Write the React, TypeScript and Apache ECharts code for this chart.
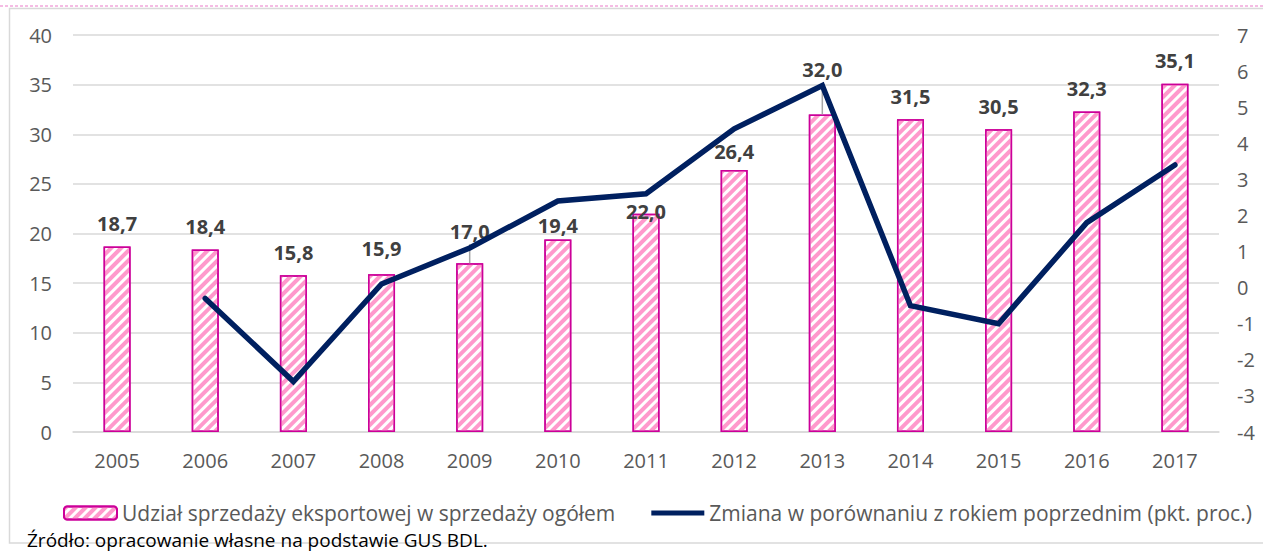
import React, { useEffect, useRef } from "react";
import * as echarts from "echarts";

const years = ["2005", "2006", "2007", "2008", "2009", "2010", "2011", "2012", "2013", "2014", "2015", "2016", "2017"];
const exportShare = [18.7, 18.4, 15.8, 15.9, 17.0, 19.4, 22.0, 26.4, 32.0, 31.5, 30.5, 32.3, 35.1];
const yearChange = [null, -0.3, -2.6, 0.1, 1.1, 2.4, 2.6, 4.4, 5.6, -0.5, -1.0, 1.8, 3.4];
const barName = "Udział sprzedaży eksportowej w sprzedaży ogółem";
const lineName = "Zmiana w porównaniu z rokiem poprzednim (pkt. proc.)";
const sourceText = "Źródło: opracowanie własne na podstawie GUS BDL.";

// label vertical shifts (px) relative to default position, and leader lines
const labelShift = [0, 0, 0, -3, -9, 9, 21, 5, -22, 0, 0, 0, 0];
const leaders: [number, number][] = [
  [4, 19],
  [8, 31],
];

const FONT = "'Open Sans', 'Noto Sans', sans-serif";

export default function App() {
  const ref = useRef<HTMLDivElement>(null);
  useEffect(() => {
    if (!ref.current) return;
    const chart = echarts.init(ref.current, null, { renderer: "svg" });
    chart.setOption({
      animation: false,
      backgroundColor: "#FFFFFF",
      textStyle: { fontFamily: FONT },
      grid: { left: 73, right: 44, top: 35, bottom: 121, containLabel: false },
      legend: {
        data: [
          { name: barName },
          { name: lineName, icon: "path://M0,0 L53,0 L53,5 L0,5 Z" },
        ],
        left: 58,
        top: 497,
        itemWidth: 53,
        itemHeight: 13,
        itemGap: 36,
        symbolKeepAspect: true,
        textStyle: { fontFamily: FONT, fontSize: 21, color: "#595959", lineHeight: 22 },
      },
      xAxis: {
        type: "category",
        data: years,
        boundaryGap: true,
        axisTick: { show: false },
        axisLine: { show: true, lineStyle: { color: "#D9D9D9", width: 1.5 } },
        axisLabel: { fontFamily: FONT, fontSize: 20, color: "#595959", margin: 18 },
      },
      yAxis: [
        {
          type: "value",
          min: 0,
          max: 40,
          interval: 5,
          axisLine: { show: false },
          axisTick: { show: false },
          splitLine: { lineStyle: { color: "#D9D9D9", width: 1.5 } },
          axisLabel: { fontFamily: FONT, fontSize: 20, color: "#595959", margin: 21 },
        },
        {
          type: "value",
          min: -4,
          max: 7,
          interval: 1,
          axisLine: { show: false },
          axisTick: { show: false },
          splitLine: { show: false },
          axisLabel: { fontFamily: FONT, fontSize: 20, color: "#595959", margin: 18, align: "left" },
        },
      ],
      series: [
        {
          name: barName,
          type: "bar",
          barWidth: 27,
          data: exportShare.map((v, i) => ({
            value: v,
            label: { offset: [0, labelShift[i]] },
          })),
          itemStyle: {
            color: "#FFFFFF",
            borderColor: "#CC0099",
            borderWidth: 1.5,
            decal: {
              symbol: "rect",
              symbolSize: 1,
              color: "#FF99CC",
              dashArrayX: [1, 0],
              dashArrayY: [3.5, 3],
              rotation: -Math.PI / 4,
            },
          },
          label: {
            show: true,
            position: "top",
            distance: 13,
            fontFamily: FONT,
            fontSize: 20,
            fontWeight: "bold",
            color: "#404040",
            formatter: (p: any) => Number(p.value).toFixed(1).replace(".", ","),
          },
          z: 2,
        },
        {
          name: "leaders",
          type: "custom",
          xAxisIndex: 0,
          yAxisIndex: 0,
          silent: true,
          data: leaders.map(([i, len]) => [i, exportShare[i], len]),
          renderItem: (params: any, api: any) => {
            const p = api.coord([api.value(0), api.value(1)]);
            const len = api.value(2);
            return {
              type: "line",
              shape: { x1: p[0], y1: p[1], x2: p[0], y2: p[1] - len },
              style: { stroke: "#A6A6A6", lineWidth: 1.5 },
            };
          },
          z: 3,
        },
        {
          name: lineName,
          type: "line",
          yAxisIndex: 1,
          data: yearChange,
          symbol: "none",
          showSymbol: false,
          connectNulls: false,
          lineStyle: { color: "#002060", width: 5.5, cap: "round", join: "miter" },
          itemStyle: { color: "#002060" },
          z: 4,
        },
      ],
      graphic: [
        {
          type: "line",
          shape: { x1: 0, y1: 6, x2: 1263, y2: 6 },
          style: { stroke: "#F2A7DC", lineWidth: 1.5, lineDash: [3, 2] },
          silent: true,
        },
        {
          type: "rect",
          shape: { x: 9.5, y: 8.5, width: 1270, height: 534.5 },
          style: { fill: "none", stroke: "#D9D9D9", lineWidth: 1.5 },
          silent: true,
          z: -1,
        },
        {
          type: "text",
          left: 27,
          top: 529,
          style: { text: sourceText, fontFamily: FONT, fontSize: 19, lineHeight: 22, fill: "#000000" },
          silent: true,
        },
      ],
    });
    return () => chart.dispose();
  }, []);
  return (
    <div
      ref={ref}
      style={{ position: "absolute", left: 0, top: 0, width: 1263, height: 553 }}
    />
  );
}
